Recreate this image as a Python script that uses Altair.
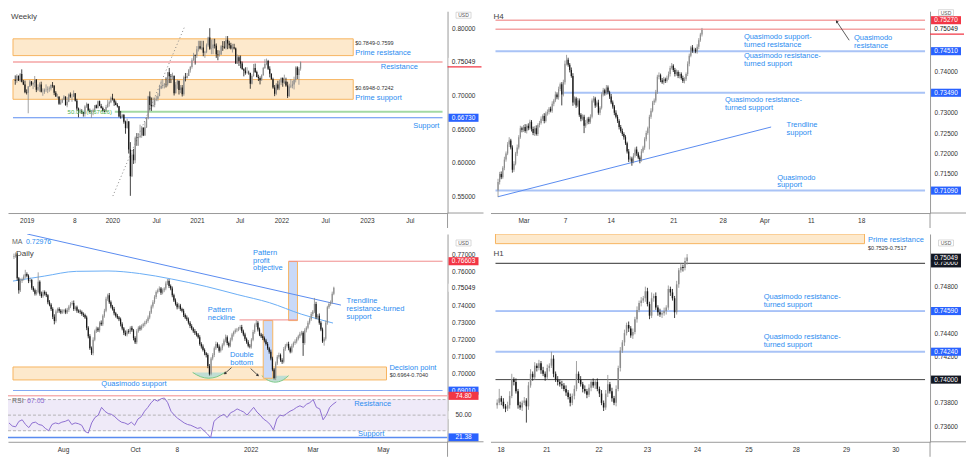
import altair as alt
import pandas as pd

FONT = "Liberation Sans"
UP, DN = "#8c8c8c", "#151515"
TXT_BLUE = "#2b8cf0"
LINE_BLUE = "#5a8cf0"
PALE_BLUE = "#a9c3f6"
PALE_RED = "#f4a4a4"
RED = "#f08c8c"
B_BLUE, B_RED, B_BLACK = "#2962ff", "#f23645", "#131722"
BAND_FILL, BAND_STROKE = "#fde9cc", "#f7b560"
AX = "#9a9a9a"
BADGE_SHAPE = "M-1,-0.27L1,-0.27L1,0.27L-1,0.27Z"
USD_SHAPE = "M-1,-0.4L1,-0.4L1,0.4L-1,0.4Z"

# ---------------- data: prices in 1/10000 USD ----------------
# Weekly AUD/USD, weeks from 2018-11-05 to 2022-03-21
W_OPEN0 = 7235
W_C = [7225, 7300, 7228, 7326, 7210, 7170, 7054, 7045, 7139,
       7213, 7170, 7190, 7240, 7090, 7130, 7170, 7060, 7060, 7090, 7095, 7100, 7110, 7160, 7150, 7045, 6990,
       6990, 6880, 6900, 6945, 6990, 6860, 6910, 7020, 6990, 6990, 7040, 6925, 6810, 6770, 6770, 6760, 6730,
       6840, 6880, 6780, 6760, 6760, 6790, 6860, 6820, 6920, 6850, 6820, 6775, 6765, 6835, 6880, 6905, 6970, 6950,
       6900, 6865, 6845, 6690, 6680, 6715, 6615, 6520, 6620, 6200, 5800, 6125, 6040, 6375, 6370, 6385, 6410,
       6525, 6410, 6530, 6665, 6990, 6865, 6845, 6865, 6945, 6955, 6995, 7110, 7145, 7160, 7170, 7165, 7350, 7290,
       7285, 7300, 7040, 7170, 7225, 7085, 7125, 7025, 7275, 7265, 7295, 7380, 7430, 7530, 7610, 7595, 7695,
       7740, 7705, 7720, 7640, 7655, 7755, 7870, 7700, 7710, 7765, 7745, 7620, 7610, 7615, 7740, 7730, 7715,
       7835, 7780, 7755, 7705, 7725, 7705, 7480, 7575, 7515, 7480, 7395, 7375, 7340, 7345, 7340, 7180, 7295, 7415,
       7355, 7280, 7265, 7230, 7305, 7415, 7475, 7520, 7405, 7330, 7245, 7125, 7030, 7170, 7110, 7200, 7265,
       7195, 7215, 7155, 6995, 7140, 7150, 7170, 7235, 7420, 7310, 7405, 7505]
W_H = [7304, 7322, 7280, 7340, 7394, 7236, 7227, 7096, 7145,
       7236, 7220, 7210, 7295, 7250, 7170, 7200, 7210, 7110, 7110, 7170, 7140, 7140, 7170, 7205, 7160, 7070,
       7030, 6990, 6945, 6960, 7010, 6980, 6980, 7035, 7050, 7030, 7080, 7040, 6955, 6825, 6810, 6800, 6760,
       6860, 6900, 6880, 6810, 6790, 6810, 6860, 6870, 6930, 6930, 6880, 6840, 6800, 6865, 6940, 6930, 6990, 7030,
       6960, 6930, 6890, 6850, 6775, 6730, 6730, 6630, 6660, 6620, 6310, 6190, 6210, 6395, 6445, 6445, 6570,
       6550, 6530, 6615, 6685, 7000, 7065, 6975, 6975, 6975, 7000, 7040, 7165, 7230, 7240, 7190, 7275, 7355, 7415,
       7325, 7345, 7290, 7205, 7240, 7210, 7160, 7160, 7300, 7340, 7340, 7400, 7445, 7560, 7640, 7610, 7740,
       7820, 7820, 7820, 7820, 7670, 7780, 7880, 8007, 7840, 7850, 7850, 7780, 7680, 7675, 7755, 7815, 7815,
       7890, 7890, 7820, 7790, 7775, 7775, 7720, 7615, 7600, 7600, 7510, 7410, 7425, 7425, 7375, 7345, 7320, 7475,
       7480, 7375, 7315, 7290, 7320, 7430, 7545, 7555, 7535, 7440, 7335, 7270, 7160, 7190, 7225, 7240, 7275,
       7275, 7315, 7270, 7210, 7180, 7250, 7225, 7285, 7440, 7440, 7430, 7510]
W_L = [7165, 7194, 7220, 7208, 7200, 7160, 7038, 7020, 6740,
       7130, 7150, 7100, 7130, 7055, 7070, 7060, 7050, 7000, 7030, 7060, 7040, 7060, 7080, 7120, 7010, 6985,
       6960, 6865, 6865, 6890, 6935, 6855, 6830, 6905, 6970, 6910, 6980, 6915, 6780, 6680, 6740, 6730, 6690,
       6690, 6820, 6770, 6750, 6670, 6710, 6760, 6810, 6810, 6845, 6810, 6765, 6755, 6760, 6820, 6840, 6890, 6930,
       6850, 6860, 6825, 6680, 6660, 6675, 6585, 6435, 6510, 6140, 5510, 5790, 5985, 5995, 6255, 6255, 6370,
       6375, 6400, 6405, 6520, 6650, 6780, 6775, 6830, 6830, 6920, 6920, 7020, 7100, 7110, 7110, 7125, 7140, 7190,
       7190, 7240, 7005, 7035, 7105, 7020, 7040, 6990, 7000, 7215, 7255, 7295, 7345, 7405, 7520, 7465, 7565,
       7660, 7690, 7680, 7590, 7565, 7635, 7730, 7685, 7620, 7620, 7705, 7565, 7530, 7585, 7610, 7670, 7700,
       7690, 7695, 7705, 7690, 7645, 7690, 7475, 7475, 7445, 7410, 7390, 7290, 7315, 7330, 7315, 7105, 7170, 7285,
       7340, 7275, 7220, 7170, 7225, 7300, 7400, 7455, 7385, 7275, 7240, 7105, 6995, 7010, 7085, 7085, 7160,
       7135, 7175, 7135, 6967, 6985, 7115, 7110, 7095, 7200, 7250, 7165, 7375]
W_XPOS = [7.4, 36.7, 60.2, 87.2, 112.4, 138.7, 164.5, 191.5, 217.3, 243.7]
W_XLAB = ["2019", "8", "2020", "Jul", "2021", "Jul", "2022", "Jul", "2023", "Jul"]

# H4 bars (late Feb to 24 Mar 2022)
H4_OPEN0 = 7110
H4_C = [7130, 7150, 7142, 7165, 7185, 7200, 7222, 7232, 7215, 7160, 7175, 7200, 7215, 7240, 7262, 7258, 7265, 7255, 7268, 7262,
        7278, 7260, 7250, 7262, 7248, 7270, 7275, 7285, 7292, 7280, 7298, 7302, 7310, 7305, 7322, 7330, 7345, 7338, 7358, 7370,
        7345, 7375, 7420, 7430, 7418, 7405, 7390, 7325, 7335, 7318, 7330, 7295, 7285, 7290, 7268, 7275, 7285, 7278, 7290, 7330,
        7335, 7318, 7325, 7300, 7312, 7345, 7355, 7348, 7362, 7350, 7340, 7325, 7315, 7300, 7290, 7280, 7265, 7255, 7248, 7240,
        7225, 7205, 7185, 7188, 7180, 7195, 7210, 7200, 7190, 7185, 7205, 7215, 7235, 7250, 7262, 7290, 7305, 7325, 7330, 7350,
        7388, 7392, 7380, 7375, 7382, 7378, 7386, 7395, 7410, 7415, 7405, 7395, 7400, 7390, 7395, 7385, 7378, 7382, 7395, 7420,
        7440, 7460, 7452, 7455, 7450, 7462, 7478, 7492, 7503]
H4_UW = [8, 5, 6, 4, 7, 5, 6, 8, 4, 5, 6, 4, 7, 5, 6, 4, 5, 7, 4, 6,
         5, 4, 6, 5, 7, 4, 5, 6, 4, 7, 5, 6, 4, 5, 6, 4, 7, 5, 6, 4,
         5, 6, 8, 12, 5, 4, 6, 7, 5, 4, 6, 5, 4, 6, 5, 7, 4, 5, 6, 5,
         6, 4, 5, 7, 4, 5, 6, 4, 6, 5, 4, 6, 5, 4, 6, 5, 4, 5, 6, 4,
         5, 4, 6, 5, 4, 6, 5, 7, 4, 5, 6, 4, 5, 6, 4, 5, 6, 4, 5, 6,
         5, 7, 4, 5, 6, 4, 5, 6, 5, 7, 4, 5, 6, 4, 5, 4, 6, 5, 4, 6,
         5, 4, 6, 5, 4, 6, 5, 4, 5]
H4_LW = [17, 6, 5, 4, 6, 5, 4, 6, 5, 7, 5, 4, 6, 5, 4, 6, 5, 4, 6, 5,
         4, 6, 5, 7, 4, 5, 6, 4, 5, 6, 4, 5, 6, 4, 5, 6, 4, 5, 6, 5,
         27, 5, 6, 4, 5, 6, 4, 8, 5, 6, 4, 5, 6, 4, 18, 5, 4, 6, 5, 4,
         5, 6, 4, 5, 6, 4, 5, 6, 4, 5, 6, 4, 5, 6, 4, 5, 6, 4, 5, 6,
         4, 5, 6, 5, 10, 4, 5, 6, 4, 9, 5, 4, 6, 5, 4, 52, 5, 4, 6, 5,
         4, 6, 5, 4, 6, 5, 4, 5, 6, 4, 5, 6, 4, 5, 6, 4, 5, 6, 4, 5,
         6, 4, 5, 6, 4, 5, 6, 4, 5]
H4_XPOS = [16.3, 42.4, 71, 110.3, 141.3, 167.4, 196.6, 228.2]
H4_XLAB = ["Mar", "7", "14", "21", "28", "Apr", "11", "18"]

# Daily bars (mid-Jun 2021 to 24 Mar 2022)
D_OPEN0 = 7685
D_C = [7690, 7700, 7560, 7490, 7545, 7555, 7570, 7585, 7575, 7545, 7550, 7505, 7490, 7470, 7480, 7540, 7470, 7455, 7480, 7470,
       7460, 7420, 7405, 7380, 7335, 7310, 7365, 7380, 7370, 7360, 7365, 7372, 7360, 7375, 7395, 7410, 7415, 7380, 7390, 7370,
       7365, 7362, 7350, 7345, 7330, 7270, 7220, 7150, 7120, 7200, 7250, 7265, 7255, 7300, 7290, 7340, 7370, 7440, 7460, 7420,
       7395, 7380, 7355, 7340, 7330, 7320, 7290, 7265, 7240, 7230, 7250, 7245, 7270, 7255, 7210, 7185, 7250, 7270, 7265, 7280,
       7290, 7300, 7310, 7330, 7360, 7395, 7420, 7450, 7480, 7490, 7500, 7475, 7490, 7500, 7530, 7545, 7515, 7500, 7460, 7430,
       7410, 7390, 7400, 7380, 7370, 7345, 7330, 7320, 7300, 7280, 7265, 7250, 7240, 7230, 7215, 7175, 7160, 7140, 7120, 7110,
       7045, 7000, 7090, 7110, 7150, 7175, 7160, 7135, 7150, 7170, 7195, 7215, 7180, 7165, 7200, 7230, 7245, 7255, 7260, 7265,
       7275, 7250, 7230, 7205, 7185, 7165, 7160, 7200, 7245, 7285, 7300, 7260, 7230, 7220, 7210, 7195, 7175, 7150, 7130, 7090,
       7025, 6975, 7060, 7100, 7110, 7080, 7070, 7145, 7165, 7175, 7150, 7130, 7165, 7180, 7190, 7205, 7220, 7235, 7240, 7180,
       7255, 7270, 7300, 7320, 7350, 7365, 7410, 7330, 7340, 7300, 7260, 7190, 7205, 7300, 7390, 7410, 7420, 7470, 7505]
D_UW = [15, 12, 10, 8, 14, 9, 12, 25, 10, 8, 14, 6, 9, 10, 12, 55, 8, 12, 10, 9,
        11, 7, 12, 9, 10, 14, 12, 8, 10, 9, 13, 8, 11, 12, 9, 10, 13, 15, 9, 10,
        8, 12, 9, 10, 8, 11, 9, 12, 10, 14, 9, 12, 10, 8, 13, 9, 11, 12, 10, 14,
        10, 9, 12, 8, 11, 9, 10, 12, 9, 14, 10, 12, 9, 11, 8, 10, 12, 9, 13, 10,
        9, 11, 10, 12, 9, 10, 12, 11, 9, 10, 13, 9, 11, 8, 12, 11, 10, 9, 12, 10,
        12, 9, 14, 10, 8, 11, 9, 12, 10, 9, 11, 8, 12, 10, 9, 11, 10, 12, 9, 8,
        10, 12, 9, 11, 10, 14, 9, 12, 10, 9, 11, 15, 10, 9, 12, 10, 8, 11, 9, 10,
        10, 12, 9, 11, 8, 12, 10, 9, 13, 10, 15, 9, 11, 10, 12, 9, 10, 11, 8, 12,
        10, 9, 12, 10, 14, 9, 11, 12, 10, 9, 13, 10, 11, 9, 12, 10, 9, 11, 12, 10,
        12, 9, 11, 10, 12, 9, 35, 12, 10, 14, 9, 11, 10, 12, 9, 11, 10, 12, 6]
D_LW = [12, 9, 14, 20, 10, 12, 8, 11, 9, 13, 10, 12, 9, 11, 10, 8, 12, 10, 9, 11,
        10, 12, 9, 11, 14, 20, 10, 9, 12, 10, 8, 11, 10, 9, 12, 10, 9, 11, 10, 12,
        9, 11, 10, 12, 8, 14, 12, 10, 10, 12, 9, 11, 10, 12, 9, 10, 11, 9, 12, 10,
        11, 9, 12, 10, 9, 11, 12, 10, 13, 9, 11, 10, 12, 9, 14, 10, 11, 9, 12, 10,
        10, 12, 9, 11, 10, 9, 12, 10, 11, 9, 10, 12, 9, 11, 10, 9, 12, 10, 11, 9,
        10, 12, 9, 11, 10, 12, 9, 10, 11, 12, 9, 10, 12, 11, 9, 10, 12, 9, 11, 14,
        12, 10, 9, 11, 12, 10, 9, 11, 10, 12, 9, 10, 12, 11, 9, 10, 12, 9, 11, 10,
        9, 11, 10, 12, 9, 10, 11, 12, 9, 10, 11, 12, 9, 10, 12, 11, 9, 10, 12, 11,
        10, 8, 12, 9, 11, 10, 12, 9, 10, 11, 12, 10, 9, 11, 10, 12, 9, 11, 10, 75,
        10, 12, 9, 11, 10, 12, 9, 10, 11, 12, 10, 9, 25, 10, 12, 9, 11, 10, 9]
D_XPOS = [33, 76.5, 101.8, 146.5, 184, 226.5]
D_XLAB = ["Aug", "Oct", "8", "2022", "Mar", "May"]
MA_X = [-0.6, 18.8, 38.6, 58.2, 77.8, 97.5, 119, 138.6, 158.2, 177.8, 197.5]
MA_P = [0.7544, 0.7573, 0.7601, 0.7603, 0.7588, 0.7556, 0.7512, 0.7464, 0.7417, 0.7350, 0.72976]
# RSI, every second daily bar
RSI_V = [40, 36, 35, 42, 44, 38, 34, 40, 41, 38, 37, 33, 30, 38, 40, 39, 41, 42, 44, 38,
         40, 39, 37, 29, 27, 40, 47, 50, 60, 55, 52, 51, 48, 44, 41, 40, 38, 41, 37, 45,
         48, 55, 60, 66, 70, 68, 71, 72, 66, 55, 50, 46, 43, 40, 38, 37, 35, 33, 34, 30,
         26, 21, 42, 46, 49, 51, 47, 53, 55, 58, 56, 54, 50, 55, 60, 54, 50, 45, 42, 38,
         31, 45, 50, 49, 52, 55, 57, 60, 62, 60, 64, 66, 70, 60, 58, 44, 50, 60, 64, 67.05]

# H1 bars (18-23 Mar 2022)
H1_OPEN0 = 7378
H1_C = [7380, 7384, 7381, 7377, 7375, 7378, 7386, 7400, 7398, 7390, 7378, 7376, 7380, 7382, 7377, 7395, 7405, 7402, 7412, 7410,
        7414, 7408, 7405, 7402, 7410, 7412, 7418, 7405, 7400, 7398, 7396, 7395, 7392, 7389, 7385, 7380, 7386, 7392, 7405, 7400,
        7396, 7392, 7390, 7387, 7393, 7398, 7395, 7398, 7392, 7388, 7380, 7376, 7388, 7396, 7390, 7384, 7380, 7392, 7410, 7425,
        7432, 7440, 7447, 7444, 7438, 7441, 7452, 7460, 7466, 7468, 7470, 7476, 7465, 7455, 7470, 7472, 7462, 7458, 7456, 7457,
        7459, 7462, 7478, 7475, 7470, 7458, 7482, 7494, 7497, 7496, 7502, 7505]
H1_UW = [3, 8, 2, 3, 2, 3, 4, 5, 2, 3, 2, 3, 2, 3, 2, 3, 4, 2, 3, 2,
         3, 2, 3, 2, 3, 2, 6, 3, 2, 3, 2, 3, 2, 3, 2, 3, 2, 3, 11, 2,
         3, 2, 3, 2, 3, 2, 3, 2, 3, 2, 3, 2, 3, 8, 2, 3, 2, 3, 2, 3,
         2, 3, 2, 3, 2, 3, 2, 3, 2, 3, 2, 4, 3, 2, 5, 2, 3, 2, 3, 2,
         3, 2, 3, 2, 3, 2, 3, 2, 3, 2, 3, 3]
H1_LW = [3, 2, 3, 2, 3, 2, 3, 2, 3, 2, 3, 2, 3, 2, 14, 3, 2, 3, 2, 3,
         2, 3, 2, 3, 2, 3, 2, 3, 2, 3, 2, 3, 2, 3, 2, 3, 2, 3, 2, 3,
         2, 3, 2, 3, 2, 3, 2, 3, 2, 3, 2, 3, 2, 3, 2, 3, 2, 3, 2, 3,
         2, 3, 2, 3, 2, 3, 2, 3, 2, 3, 2, 3, 2, 3, 2, 3, 2, 3, 2, 3,
         2, 3, 2, 3, 2, 5, 2, 3, 2, 3, 2, 3]
H1_XPOS = [1.9, 23.8, 48.8, 72, 96, 120.6, 143.3, 167.4, 191]
H1_XLAB = ["18", "21", "22", "23", "24", "25", "28", "29", "30"]


def sc(d):
    return alt.Scale(domain=d, nice=False, zero=False)


class Panel:
    def __init__(self, xd, yd, yvals, w, h, xaxis=True, fmt=".5f"):
        self.xd, self.yd = xd, yd
        self.xs, self.ys, self.w, self.h = sc(xd), sc(yd), w, h
        self.ya = alt.Axis(orient="right", values=yvals, format=fmt, title=None, grid=False, ticks=False,
                           labelFontSize=6.5, labelColor="#333", labelPadding=4, domainColor=AX, labelFont=FONT)
        self.xa = alt.Axis(labels=False, ticks=False, grid=False, title=None, domainColor=AX) if xaxis else None
        self.L = []

    def X(self, f):
        return alt.X(f + ":Q", scale=self.xs, axis=self.xa)

    def Y(self, f):
        return alt.Y(f + ":Q", scale=self.ys, axis=self.ya)

    def _cx(self, v, hi):
        if v is None:
            return self.xd[1] if hi else self.xd[0]
        return v

    def rects(self, rows, fill, stroke=None, sw=1):
        rows = [(self._cx(a, False), self._cx(b, True), min(p, self.yd[1]), min(q, self.yd[1])) for a, b, p, q in rows]
        df = pd.DataFrame(rows, columns=["x1", "x2", "p1", "p2"])
        kw = dict(fill=fill, clip=True)
        if stroke:
            kw.update(stroke=stroke, strokeWidth=sw)
        self.L.append(alt.Chart(df).mark_rect(**kw).encode(x=self.X("x1"), x2="x2:Q", y=self.Y("p1"), y2="p2:Q"))

    def hlines(self, rows, dash=None):
        rows = [(self._cx(a, False), self._cx(b, True), p, c, s) for a, b, p, c, s in rows]
        df = pd.DataFrame(rows, columns=["x1", "x2", "p", "col", "sw"])
        kw = dict(clip=True)
        if dash:
            kw["strokeDash"] = dash
        self.L.append(alt.Chart(df).mark_rule(**kw).encode(
            x=self.X("x1"), x2="x2:Q", y=self.Y("p"),
            color=alt.Color("col:N", scale=None), strokeWidth=alt.StrokeWidth("sw:Q", scale=None)))

    def segs(self, rows, color, sw=1, dash=None):
        df = pd.DataFrame(rows, columns=["x1", "p1", "x2", "p2"])
        kw = dict(color=color, strokeWidth=sw, clip=True)
        if dash:
            kw["strokeDash"] = dash
        self.L.append(alt.Chart(df).mark_rule(**kw).encode(x=self.X("x1"), y=self.Y("p1"), x2="x2:Q", y2="p2:Q"))

    def line(self, xv, pv, color, sw=1, interp="linear"):
        df = pd.DataFrame({"x": xv, "p": pv})
        self.L.append(alt.Chart(df).mark_line(color=color, strokeWidth=sw, interpolate=interp, clip=True)
                      .encode(x=self.X("x"), y=self.Y("p")))

    def bowl(self, xv, pv, top):
        df = pd.DataFrame({"x": xv, "p": pv, "top": [top] * len(xv)})
        self.L.append(alt.Chart(df).mark_area(interpolate="monotone", color="#b9ddd5", opacity=0.9)
                      .encode(x=self.X("x"), y=self.Y("p"), y2="top:Q"))
        self.L.append(alt.Chart(df).mark_line(interpolate="monotone", color="#7cc987", strokeWidth=1)
                      .encode(x=self.X("x"), y=self.Y("p")))

    def candles(self, o0, closes, body, highs=None, lows=None, uw=None, lw=None):
        opens = [o0] + list(closes[:-1])
        rows = []
        for i, (o, c) in enumerate(zip(opens, closes)):
            if highs is not None:
                hi, lo = max(highs[i], o, c), min(lows[i], o, c)
            else:
                hi, lo = max(o, c) + uw[i], min(o, c) - lw[i]
            rows.append({"i": i, "o": o / 1e4, "c": c / 1e4, "h": hi / 1e4, "l": lo / 1e4,
                         "col": UP if c >= o else DN})
        df = pd.DataFrame(rows)
        b = alt.Chart(df)
        self.L.append(b.mark_rule(strokeWidth=0.8).encode(x=self.X("i"), y=self.Y("l"), y2="h:Q",
                                                          color=alt.Color("col:N", scale=None)))
        self.L.append(b.mark_bar(size=body).encode(x=self.X("i"), y=self.Y("o"), y2="c:Q",
                                                   color=alt.Color("col:N", scale=None)))

    def texts(self, rows, color=TXT_BLUE, size=7.5, align="left", baseline="top", lh=7.7):
        df = pd.DataFrame(rows, columns=["x", "p", "t"])
        self.L.append(alt.Chart(df).mark_text(align=align, baseline=baseline, fontSize=size, color=color,
                                              font=FONT, lineBreak="\n", lineHeight=lh)
                      .encode(x=self.X("x"), y=self.Y("p"), text="t:N"))

    def arrows(self, rows):
        df = pd.DataFrame(rows, columns=["x1", "p1", "x2", "p2", "a"])
        b = alt.Chart(df)
        self.L.append(b.mark_rule(color="#333", strokeWidth=0.8).encode(x=self.X("x1"), y=self.Y("p1"),
                                                                         x2="x2:Q", y2="p2:Q"))
        self.L.append(b.mark_point(shape="triangle", filled=True, size=10, color="#333", opacity=1)
                      .encode(x=self.X("x2"), y=self.Y("p2"), angle=alt.Angle("a:Q", scale=None)))

    def ptext(self, t, x, y, color="#444", size=8, align="left"):
        df = pd.DataFrame({"t": [t]})
        self.L.append(alt.Chart(df).mark_text(align=align, baseline="middle", fontSize=size, color=color, font=FONT)
                      .encode(x=alt.value(x), y=alt.value(y), text="t:N"))

    def badges(self, rows):
        df = pd.DataFrame(rows, columns=["p", "t", "f", "tc"])
        b = alt.Chart(df)
        xv = alt.value(self.w + 16)
        self.L.append(b.mark_point(shape=BADGE_SHAPE, size=900, filled=True, opacity=1, strokeWidth=0)
                      .encode(x=xv, y=self.Y("p"), color=alt.Color("f:N", scale=None)))
        self.L.append(b.mark_text(fontSize=6.5, font=FONT, align="center", baseline="middle")
                      .encode(x=xv, y=self.Y("p"), text="t:N", color=alt.Color("tc:N", scale=None)))

    def underline(self, p, color):
        df = pd.DataFrame({"p": [p]})
        self.L.append(alt.Chart(df).mark_rule(color=color, strokeWidth=1.2, yOffset=5)
                      .encode(x=alt.value(self.w), x2=alt.value(self.w + 34), y=self.Y("p")))

    def usd(self, y):
        df = pd.DataFrame({"t": ["USD"]})
        b = alt.Chart(df)
        self.L.append(b.mark_point(shape=USD_SHAPE, size=225, filled=True, fill="white", stroke="#c8c8c8",
                                   strokeWidth=0.7, opacity=1).encode(x=alt.value(self.w + 16), y=alt.value(y)))
        self.L.append(b.mark_text(fontSize=5, color="#555", font=FONT, align="center", baseline="middle")
                      .encode(x=alt.value(self.w + 16), y=alt.value(y), text="t:N"))

    def frame(self):
        df = pd.DataFrame({"a": [0]})
        b = alt.Chart(df)
        self.L.append(b.mark_rule(color=AX, strokeWidth=1).encode(x=alt.value(self.w), x2=alt.value(self.w + 36),
                                                                  y=alt.value(self.h)))
        self.L.append(b.mark_rule(color=AX, strokeWidth=1).encode(x=alt.value(self.w), y=alt.value(self.h),
                                                                  y2=alt.value(self.h + 15)))

    def xlabels(self, pos, labs):
        df = pd.DataFrame({"x": pos, "t": labs})
        self.L.append(alt.Chart(df).mark_text(fontSize=6.5, color="#333", font=FONT, baseline="middle")
                      .encode(x=self.X("x"), y=alt.value(self.h + 8), text="t:N"))

    def chart(self):
        return alt.layer(*self.L).properties(width=self.w, height=self.h)


WL, WR = 440, 440

# ---------------- Weekly ----------------
wk = Panel([-1.4, 263.6], [0.5254, 0.826], [0.55, 0.60, 0.65, 0.70, 0.80], WL, 202)
wk.rects([(None, 208.5, 0.7599, 0.7849), (None, 208.5, 0.6948, 0.7242)], BAND_FILL, BAND_STROKE)
wk.hlines([(None, None, 0.75049, PALE_RED, 1.5), (61.4, None, 0.6762, "#a3d9a3", 2),
           (None, None, 0.6673, LINE_BLUE, 1)])
wk.segs([(60.2, 0.5507, 104.2, 0.8014)], "#888", 1, dash=[1, 2.5])
wk.candles(W_OPEN0, W_C, 1.2, highs=W_H, lows=W_L)
wk.texts([(209.7, 0.7783, "$0.7849-0.7599"), (209.7, 0.7119, "$0.6948-0.7242")], color="#333", size=5.5,
         baseline="middle")
wk.texts([(209.7, 0.7639, "Prime resistance"), (209.7, 0.6974, "Prime support"),
          (225.5, 0.7422, "Resistance"), (245.5, 0.6555, "Support")], baseline="middle")
wk.texts([(59.6, 0.6762, "50.0% (0.67626)")], color="#4caf50", size=6, align="right", baseline="middle")
wk.ptext("Weekly", 3, 6, "#444", 8)
wk.badges([(0.75049, "0.75049", "white", "#222"), (0.6673, "0.66730", B_BLUE, "white")])
wk.underline(0.75049, B_RED)
wk.usd(4)
wk.frame()
wk.xlabels(W_XPOS, W_XLAB)

# ---------------- H4 ----------------
h4 = Panel([-1.6, 268], [0.7054, 0.7549], [0.715, 0.72, 0.725, 0.73, 0.74], WR, 202)
h4.hlines([(None, None, 0.7527, PALE_RED, 1.5), (None, None, 0.75049, PALE_RED, 1.5),
           (None, None, 0.7451, PALE_BLUE, 2), (40, None, 0.7349, PALE_BLUE, 2), (None, None, 0.7109, PALE_BLUE, 2)])
h4.segs([(0, 0.7094, 171.4, 0.7265)], LINE_BLUE, 1)
h4.candles(H4_OPEN0, H4_C, 1.2, uw=H4_UW, lw=H4_LW)
h4.texts([(154.3, 0.74957, "Quasimodo support-\nturned resistance"),
          (154.3, 0.74481, "Quasimodo resistance-\nturned support"),
          (223.4, 0.74933, "Quasimodo\nresistance"),
          (142.4, 0.73410, "Quasimodo resistance-\nturned support"),
          (181.1, 0.72791, "Trendline\nsupport"),
          (175.2, 0.71506, "Quasimodo\nsupport")])
h4.arrows([(220.4, 0.74778, 212.7, 0.75230, 326)])
h4.ptext("H4", 3, 6, "#444", 8)
h4.badges([(0.75049, "0.75049", "white", "#222"), (0.7527, "0.75270", B_RED, "white"),
           (0.7451, "0.74510", B_BLUE, "white"), (0.7349, "0.73490", B_BLUE, "white"),
           (0.7109, "0.71090", B_BLUE, "white")])
h4.underline(0.75049, B_RED)
h4.usd(1.5)
h4.frame()
h4.xlabels(H4_XPOS, H4_XLAB)

# ---------------- Daily ----------------
dl = Panel([-0.6, 265.3], [0.6900, 0.782], [0.70, 0.71, 0.72, 0.73, 0.74, 0.76, 0.77], WL, 157, xaxis=False)
dl.rects([(None, 230.6, 0.6964, 0.7040)], BAND_FILL, BAND_STROKE)
dl.bowl([110.6, 115.6, 120.6, 125.6, 130.6], [0.7008, 0.69825, 0.6974, 0.69825, 0.7008], 0.7008)
dl.bowl([153.4, 157.6, 161.7, 165.9, 170.0], [0.6989, 0.69605, 0.6951, 0.69605, 0.6989], 0.6989)
dl.rects([(154.3, 160.2, 0.69738, 0.73121), (170, 175.5, 0.73121, 0.76584)], "#c9d9f8", BAND_STROKE)
dl.hlines([(139.6, 175.5, 0.7316, RED, 1), (170, None, 0.76603, RED, 1), (None, None, 0.6901, LINE_BLUE, 1.5)])
dl.line(MA_X, MA_P, "#6aaef5", 1, "monotone")
dl.segs([(8.2, 0.7820, 202.4, 0.7403)], LINE_BLUE, 1)
dl.candles(D_OPEN0, D_C, 1.2, uw=D_UW, lw=D_LW)
dl.arrows([(134.7, 0.70365, 130.8, 0.70040, 235), (146.5, 0.70308, 150.8, 0.69926, 128)])
dl.texts([(148, 0.77314, "Pattern\nprofit\nobjective"), (120, 0.73948, "Pattern\nneckline"),
          (205.9, 0.74478, "Trendline\nresistance-turned\nsupport"), (232.4, 0.70582, "Decision point")])
dl.texts([(141, 0.71323, "Double\nbottom")], align="center")
dl.texts([(54.1, 0.69373, "Quasimodo support")], baseline="middle")
dl.texts([(232.6, 0.69909, "$0.6964-0.7040")], color="#333", size=5.5, baseline="middle")
dl.ptext("MA", 4, 8, "#666", 7)
dl.ptext("0.72976", 18, 8, TXT_BLUE, 7)
dl.ptext("Daily", 8, 20, "#444", 8)
dl.badges([(0.76603, "0.76603", B_RED, "white"), (0.75049, "0.75049", "white", "#222"),
           (0.6901, "0.69010", B_BLUE, "white")])
dl.usd(9)

# ---------------- RSI ----------------
rs = Panel([-0.6, 265.3], [15.8, 81.2], [], WL, 51, fmt=".2f")
rs.rects([(None, None, 30, 70)], "#efeaf8")
rs.hlines([(None, None, 70, "#a6a6a6", 0.8), (None, None, 50, "#a6a6a6", 0.8), (None, None, 30, "#a6a6a6", 0.8)],
          dash=[3, 2])
rs.hlines([(None, None, 74.8, RED, 1), (None, None, 21.38, LINE_BLUE, 1.5)])
rs.line([2 * k for k in range(len(RSI_V))], RSI_V, "#8e6fd1", 1)
rs.texts([(208.8, 64.9, "Resistance"), (211.2, 25.6, "Support")], baseline="middle")
rs.ptext("RSI", 4, 10, "#666", 7)
rs.ptext("67.05", 19, 10, "#8e6fd1", 7)
rs.badges([(74.8, "74.80", B_RED, "white"), (50, "50.00", "white", "#333"), (21.38, "21.38", B_BLUE, "white")])
rs.frame()
rs.xlabels(D_XPOS, D_XLAB)

# ---------------- H1 ----------------
h1 = Panel([-0.8, 205], [0.73465, 0.75253], [0.736, 0.738, 0.742, 0.744, 0.748], WR, 208)
h1.rects([(None, 176, 0.7517, 0.7529)], BAND_FILL, BAND_STROKE)
h1.hlines([(None, None, 0.7500, "#5a5a5a", 1.2), (None, None, 0.7459, LINE_BLUE, 1),
           (None, None, 0.7424, PALE_BLUE, 2), (None, None, 0.7400, "#444", 1)])
h1.candles(H1_OPEN0, H1_C, 1.5, uw=H1_UW, lw=H1_LW)
h1.texts([(127.7, 0.74745, "Quasimodo resistance-\nturned support"),
          (127.7, 0.74397, "Quasimodo resistance-\nturned support")])
h1.texts([(177.7, 0.75202, "Prime resistance")], baseline="middle")
h1.texts([(177.7, 0.75132, "$0.7529-0.7517")], color="#333", size=5.5, baseline="middle")
h1.ptext("H1", 3, 20, "#444", 8)
h1.badges([(0.7500, "0.75000", B_BLACK, "white"), (0.7459, "0.74590", B_BLUE, "white"),
           (0.7424, "0.74240", B_BLUE, "white"), (0.7400, "0.74000", B_BLACK, "white")])
h1.badges([(0.75049, "0.75049", B_BLACK, "white")])
h1.usd(9)
h1.frame()
h1.xlabels(H1_XPOS, H1_XLAB)

top = alt.hconcat(wk.chart(), h4.chart(), spacing=6)
left_bottom = alt.vconcat(dl.chart(), rs.chart(), spacing=0, bounds="flush")
bottom = alt.hconcat(left_bottom, h1.chart(), spacing=6)
chart = (alt.vconcat(top, bottom, spacing=5)
         .properties(padding=0)
         .configure_view(stroke=None))

chart.save("out.html", embed_options={"renderer": "svg", "actions": False})
